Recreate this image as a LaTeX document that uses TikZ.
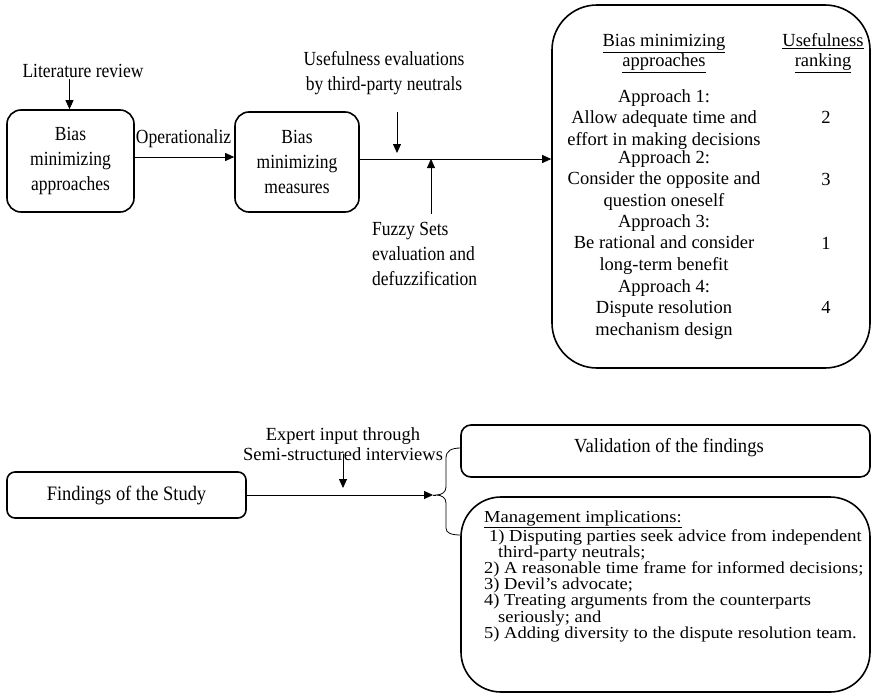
\documentclass[tikz,border=0pt]{standalone}
\usepackage{fontspec}
\setmainfont{Liberation Serif}
\newfontfamily\mgfont[FakeStretch=1.1]{Liberation Serif}
\newfontfamily\tlfont[FakeStretch=0.875]{Liberation Serif}
\newfontfamily\fsfont[FakeStretch=0.9]{Liberation Serif}
\newfontfamily\vlfont[FakeStretch=0.93]{Liberation Serif}
\usetikzlibrary{arrows.meta}
\begin{document}
\begin{tikzpicture}[x=1pt,y=-1pt,
  box/.style={draw, line width=1.6pt, rounded corners=#1, inner sep=0pt},
  tl/.style={font=\tlfont\fontsize{20}{25}\selectfont, inner sep=0pt},
  bb/.style={font=\fontsize{18.5}{21.5}\selectfont, inner sep=0pt, align=center, anchor=base},
  hd/.style={font=\fontsize{18.5}{20}\selectfont, inner sep=0pt, align=center, anchor=base},
  bt/.style={font=\fontsize{18.5}{20}\selectfont, inner sep=0pt},
  conn/.style={line width=0.8pt, -{Triangle[length=9pt,width=8pt]}},
  thin/.style={line width=0.8pt}]
\useasboundingbox (0,0) rectangle (872,696);

% ---------- top part ----------
\node[box=14pt, tl, align=center, minimum width=127pt, minimum height=102pt] (b1) at (70.5,161) {Bias\\minimizing\\approaches};
\node[box=14pt, tl, align=center, minimum width=124pt, minimum height=100pt] (b2) at (297,162) {Bias\\minimizing\\measures};
\node[box=45pt, minimum width=318pt, minimum height=363pt] (big) at (711,186.5) {};

\node[tl, anchor=base] (lit) at (83,77) {Literature review};
\coordinate (litA) at (69.5,79);
\draw[conn] (litA) -- (litA |- b1.north);

\node[tl, anchor=base] (op) at (183.5,143) {Operationaliz};
\coordinate (o1) at ([yshift=4pt]b1.east);
\draw[conn] (o1) -- (o1 -| b2.west);

\node[tl, align=center, anchor=base] (use) at (384,90.7) {Usefulness evaluations\\by third-party neutrals};
\node[tl, align=left, anchor=base west] (fz) at (372,285.7) {Fuzzy Sets\\evaluation and\\defuzzification};

\coordinate (m1) at ([yshift=3pt]b2.east);
\coordinate (m2) at (big.west |- m1);
\draw[conn] (m1) -- (m2);
\coordinate (uA) at (397,112);
\coordinate (uB) at (397,153);
\draw[conn] (uA) -- (uB);
\coordinate (fA) at (431,214);
\coordinate (fB) at (431,159);
\draw[conn] (fA) -- (fB);

% contents of the big box
\node[hd] (h1) at (664,66.7) {\underline{Bias minimizing}\\\underline{approaches}};
\node[hd] (h2) at (823,66.7) {\underline{Usefulness}\\\underline{ranking}};
\node[bb] (a1) at (664,145) {Approach 1:\\Allow adequate time and\\effort in making decisions};
\node[bb] (a2) at (664,206) {Approach 2:\\Consider the opposite and\\question oneself};
\node[bb] (a3) at (664,270) {Approach 3:\\Be rational and consider\\long-term benefit};
\node[bb] (a4) at (664,335) {Approach 4:\\Dispute resolution\\mechanism design};
\node[bb] (r1) at (826,123.3) {2};
\node[bb] (r2) at (826,185) {3};
\node[bb] (r3) at (826,249) {1};
\node[bb] (r4) at (826,313) {4};

% ---------- bottom part ----------
\node[box=8pt, minimum width=239pt, minimum height=46pt] (fs) at (126.5,495) {};
\node[font=\fsfont\fontsize{20.5}{22}\selectfont, inner sep=0pt, anchor=base] (fst) at (126.5,500.5) {Findings of the Study};
\node[bt, align=center, anchor=base] (ex) at (343,460.7) {Expert input through\\Semi-structured interviews};
\coordinate (eA) at (343,454);
\coordinate (eB) at (343,488);
\draw[conn] (eA) -- (eB);

\coordinate (tA) at (433,495);
\coordinate (br) at (436,495);
\draw[conn] (fs.east) -- (tA);
\draw[thin] (tA) -- (br);
\draw[thin] (461,448) .. controls (451,448) and (446,451) .. (446,458) -- (446,487)
  .. controls (446,492) and (442,495) .. (br)
  .. controls (442,495) and (446,498) .. (446,503) -- (446,528)
  .. controls (446,533) and (451,535) .. (461,535);

\node[box=10pt, minimum width=409pt, minimum height=52pt] (val) at (665.5,451) {};
\node[font=\vlfont\fontsize{20}{22}\selectfont, inner sep=0pt, anchor=base] (valt) at (669,452.3) {Validation of the findings};

\node[box=40pt, minimum width=409pt, minimum height=195pt] (mg) at (665.5,594.5) {};
\node[font=\mgfont\fontsize{16.8}{16.2}\selectfont, inner sep=0pt, align=left, anchor=base west] (mgt) at (484,638.3)
  {\underline{Management implications:}\\
   \hspace*{5pt}1) Disputing parties seek advice from independent\\
   \hspace*{14pt}third-party neutrals;\\
   2) A reasonable time frame for informed decisions;\\
   3) Devil’s advocate;\\
   4) Treating arguments from the counterparts\\
   \hspace*{14pt}seriously; and\\
   5) Adding diversity to the dispute resolution team.};
\end{tikzpicture}
\end{document}
